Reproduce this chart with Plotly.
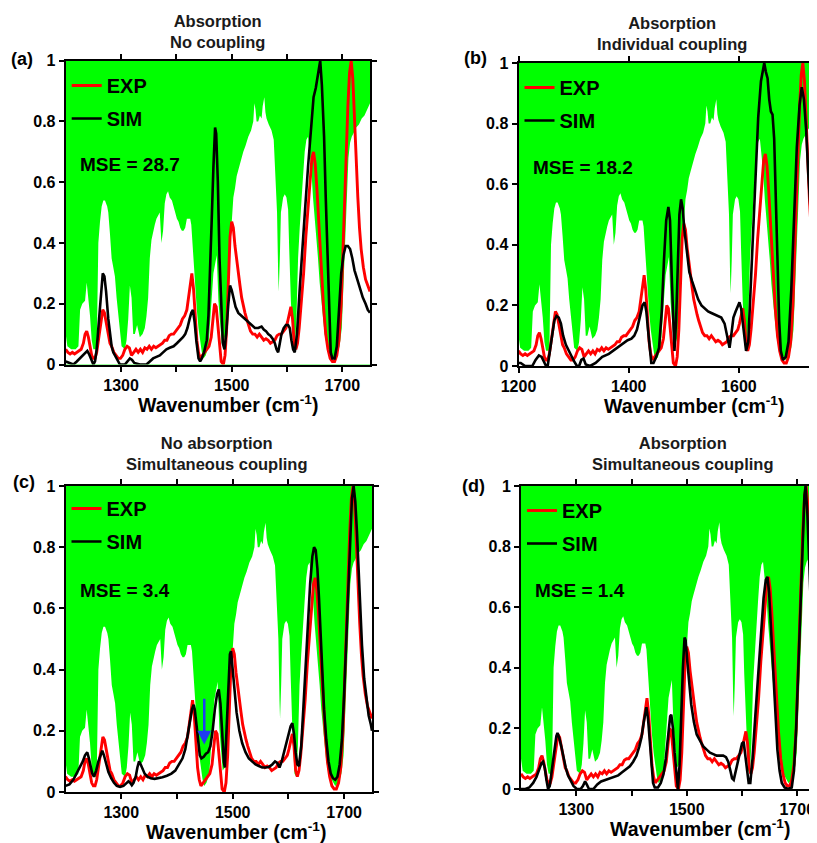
import plotly.graph_objects as go

# ---------------- data ----------------
ABS_X = [1200,1203,1210,1218,1223,1226,1230,1235,1238,1241,1244,1247,1250,1256,1259,1262,1265,1268,1271,1275,1277,1280,1283,1286,1289,1292,1295,1298,1301,1307,1310,1313,1316,1319,1322,1325,1329,1334,1339,1343,1346,1349,1352,1355,1358,1361,1364,1367,1370,1373,1376,1379,1382,1385,1388,1392,1395,1398,1401,1404,1407,1410,1413,1416,1419,1422,1425,1427,1429,1432,1435,1437,1440,1443,1446,1449,1453,1458,1461,1464,1467,1470,1473,1476,1479,1482,1486,1489,1493,1497,1500,1503,1506,1509,1512,1516,1521,1525,1530,1535,1539,1541,1543,1545,1548,1551,1554,1556,1559,1561,1563,1567,1572,1576,1579,1582,1584,1585,1587,1589,1593,1596,1599,1602,1604,1607,1611,1614,1617,1620,1623,1626,1629,1632,1635,1638,1641,1644,1647,1650,1653,1656,1659,1662,1665,1668,1672,1678,1684,1690,1695,1699,1702,1705,1708,1711,1714,1717,1720,1725,1730,1735,1740,1745,1750]
ABS_Y = [0.10,0.06,0.05,0.05,0.06,0.18,0.20,0.21,0.27,0.22,0.16,0.08,0.05,0.05,0.40,0.47,0.52,0.54,0.54,0.52,0.50,0.43,0.35,0.32,0.29,0.22,0.16,0.10,0.06,0.05,0.08,0.15,0.26,0.22,0.10,0.10,0.13,0.09,0.10,0.12,0.16,0.22,0.35,0.41,0.44,0.46,0.48,0.49,0.50,0.40,0.44,0.53,0.56,0.57,0.55,0.54,0.52,0.50,0.48,0.47,0.45,0.44,0.44,0.45,0.48,0.48,0.48,0.46,0.40,0.30,0.22,0.18,0.12,0.07,0.04,0.02,0.03,0.06,0.14,0.21,0.30,0.33,0.36,0.21,0.12,0.07,0.08,0.10,0.27,0.39,0.50,0.55,0.58,0.62,0.64,0.67,0.70,0.72,0.75,0.77,0.80,0.86,0.84,0.80,0.80,0.82,0.81,0.85,0.88,0.83,0.81,0.79,0.77,0.74,0.62,0.50,0.30,0.24,0.35,0.50,0.55,0.56,0.55,0.51,0.38,0.21,0.06,0.05,0.15,0.35,0.45,0.55,0.62,0.70,0.74,0.75,0.70,0.64,0.55,0.49,0.42,0.35,0.27,0.21,0.15,0.10,0.06,0.04,0.02,0.03,0.06,0.12,0.25,0.40,0.55,0.68,0.73,0.75,0.76,0.78,0.79,0.81,0.82,0.84,0.86]

EXP_X = [1200,1204,1208,1212,1216,1220,1224,1228,1232,1235,1238,1241,1244,1247,1250,1253,1256,1259,1262,1265,1267,1270,1273,1276,1280,1283,1287,1291,1295,1299,1303,1307,1311,1315,1319,1323,1327,1331,1335,1339,1343,1347,1351,1355,1359,1363,1367,1371,1375,1379,1383,1387,1391,1395,1399,1403,1407,1411,1415,1419,1422,1425,1428,1431,1434,1437,1440,1443,1447,1451,1455,1459,1463,1466,1469,1472,1475,1478,1481,1485,1488,1491,1494,1497,1500,1503,1506,1509,1512,1515,1518,1521,1524,1527,1530,1534,1538,1542,1546,1550,1554,1558,1562,1566,1570,1574,1578,1582,1586,1590,1594,1598,1601,1604,1607,1610,1613,1616,1619,1622,1626,1630,1634,1638,1642,1645,1648,1651,1654,1657,1660,1663,1666,1670,1674,1678,1682,1686,1690,1694,1698,1702,1706,1710,1713,1716,1719,1722,1725,1728,1731,1734,1738,1742,1746,1750]
EXP_Y = [0.05,0.04,0.035,0.04,0.035,0.04,0.045,0.05,0.07,0.10,0.11,0.09,0.06,0.03,0.02,0.02,0.04,0.08,0.13,0.17,0.18,0.17,0.14,0.10,0.07,0.06,0.04,0.03,0.02,0.02,0.03,0.05,0.06,0.055,0.03,0.04,0.05,0.04,0.05,0.04,0.055,0.05,0.06,0.05,0.06,0.055,0.06,0.065,0.07,0.08,0.08,0.095,0.10,0.10,0.11,0.12,0.13,0.15,0.16,0.18,0.22,0.27,0.30,0.25,0.15,0.08,0.04,0.02,0.03,0.04,0.05,0.06,0.09,0.15,0.20,0.19,0.12,0.05,0.01,0.0,0.03,0.12,0.30,0.42,0.47,0.45,0.39,0.34,0.30,0.26,0.22,0.19,0.17,0.15,0.13,0.11,0.10,0.10,0.09,0.10,0.09,0.08,0.085,0.08,0.07,0.075,0.08,0.095,0.10,0.10,0.11,0.12,0.14,0.17,0.19,0.15,0.07,0.05,0.07,0.12,0.20,0.30,0.42,0.52,0.62,0.68,0.70,0.66,0.58,0.48,0.38,0.28,0.19,0.10,0.05,0.02,0.01,0.01,0.03,0.08,0.20,0.42,0.65,0.85,0.96,1.0,0.94,0.80,0.67,0.55,0.45,0.38,0.32,0.28,0.26,0.24]

SIM_A_X = [1200,1207,1214,1220,1226,1232,1236,1239,1242,1246,1250,1253,1256,1259,1262,1265,1267,1270,1273,1277,1280,1283,1286,1289,1294,1298,1307,1312,1316,1320,1324,1334,1346,1352,1358,1364,1370,1376,1382,1388,1395,1401,1407,1412,1416,1420,1424,1427,1430,1433,1436,1440,1443,1446,1450,1455,1458,1461,1464,1467,1470,1472,1475,1478,1481,1484,1487,1490,1494,1497,1500,1503,1507,1512,1518,1524,1530,1536,1542,1548,1554,1558,1562,1566,1570,1574,1578,1581,1584,1587,1590,1594,1598,1602,1605,1608,1611,1614,1618,1623,1628,1633,1638,1643,1648,1652,1656,1660,1663,1667,1670,1673,1676,1679,1682,1686,1690,1694,1698,1702,1706,1710,1714,1718,1722,1727,1732,1737,1742,1746,1750]
SIM_A_Y = [0.01,0.005,0.0,0.01,0.02,0.03,0.04,0.045,0.035,0.02,0.0,0.01,0.05,0.12,0.20,0.27,0.30,0.29,0.24,0.15,0.10,0.06,0.04,0.03,0.01,0.0,0.0,0.01,0.02,0.015,0.005,0.0,0.0,0.01,0.02,0.025,0.03,0.04,0.05,0.055,0.06,0.07,0.08,0.09,0.10,0.12,0.15,0.17,0.18,0.14,0.08,0.02,0.01,0.02,0.04,0.08,0.16,0.30,0.48,0.65,0.78,0.76,0.60,0.35,0.18,0.07,0.05,0.10,0.20,0.26,0.245,0.22,0.19,0.17,0.16,0.15,0.14,0.13,0.12,0.12,0.125,0.115,0.11,0.10,0.095,0.085,0.07,0.05,0.04,0.07,0.10,0.12,0.13,0.13,0.12,0.08,0.05,0.04,0.10,0.25,0.40,0.52,0.65,0.78,0.88,0.91,0.95,1.0,0.92,0.75,0.55,0.35,0.15,0.04,0.02,0.02,0.06,0.18,0.30,0.36,0.39,0.39,0.38,0.35,0.31,0.28,0.25,0.22,0.20,0.18,0.17]

SIM_B_X = [1200,1204,1212,1225,1231,1237,1242,1246,1250,1253,1257,1261,1265,1269,1273,1277,1281,1286,1291,1296,1301,1306,1310,1314,1318,1322,1330,1340,1352,1364,1376,1388,1398,1405,1410,1415,1420,1425,1429,1432,1435,1438,1441,1445,1450,1455,1460,1464,1468,1472,1475,1478,1481,1483,1486,1489,1492,1495,1498,1501,1505,1510,1515,1520,1526,1532,1538,1544,1550,1556,1562,1568,1574,1579,1583,1586,1590,1594,1598,1601,1604,1607,1610,1613,1617,1621,1625,1630,1635,1640,1644,1646,1649,1652,1655,1658,1661,1664,1667,1670,1673,1676,1680,1685,1690,1695,1700,1705,1710,1714,1718,1722,1726,1730,1734,1738,1742,1746,1750]
SIM_B_Y = [0.01,0.01,0.0,0.0,0.02,0.035,0.03,0.015,0.0,0.0,0.05,0.11,0.15,0.165,0.16,0.14,0.10,0.07,0.05,0.03,0.015,0.0,0.0,0.02,0.025,0.005,0.0,0.01,0.03,0.04,0.055,0.07,0.085,0.09,0.10,0.12,0.16,0.20,0.21,0.18,0.12,0.05,0.01,0.01,0.03,0.06,0.18,0.35,0.48,0.525,0.48,0.30,0.10,0.05,0.15,0.35,0.50,0.55,0.52,0.45,0.38,0.31,0.28,0.25,0.22,0.20,0.19,0.18,0.175,0.17,0.165,0.16,0.14,0.10,0.06,0.10,0.16,0.18,0.20,0.21,0.19,0.14,0.08,0.05,0.08,0.25,0.45,0.65,0.82,0.94,0.99,1.0,0.97,0.95,0.88,0.84,0.83,0.75,0.55,0.35,0.15,0.05,0.02,0.03,0.08,0.25,0.50,0.72,0.86,0.92,0.88,0.78,0.63,0.50,0.40,0.34,0.30,0.28,0.26]

SIM_C_X = [1200,1207,1214,1220,1226,1231,1235,1239,1242,1245,1248,1251,1255,1259,1263,1266,1269,1273,1277,1282,1287,1292,1298,1304,1309,1313,1316,1319,1322,1326,1329,1332,1335,1338,1342,1347,1353,1360,1367,1374,1382,1390,1397,1404,1410,1415,1419,1423,1427,1430,1432,1435,1438,1441,1444,1448,1452,1456,1460,1464,1468,1472,1475,1478,1481,1484,1486,1489,1492,1495,1497,1500,1503,1507,1512,1517,1523,1529,1535,1541,1547,1553,1559,1565,1571,1576,1580,1584,1588,1592,1596,1600,1604,1607,1610,1613,1616,1619,1623,1627,1631,1635,1639,1643,1646,1649,1652,1655,1658,1661,1664,1668,1672,1676,1680,1684,1688,1692,1696,1700,1704,1708,1711,1714,1717,1720,1723,1726,1729,1732,1736,1740,1744,1748,1750]
SIM_C_Y = [0.02,0.025,0.04,0.06,0.08,0.10,0.12,0.13,0.11,0.08,0.06,0.05,0.07,0.10,0.12,0.135,0.12,0.09,0.065,0.045,0.03,0.02,0.017,0.02,0.03,0.035,0.03,0.022,0.03,0.05,0.08,0.10,0.09,0.075,0.06,0.05,0.045,0.043,0.045,0.048,0.053,0.06,0.07,0.09,0.11,0.14,0.18,0.23,0.27,0.285,0.27,0.22,0.16,0.12,0.11,0.115,0.125,0.13,0.15,0.20,0.27,0.32,0.335,0.29,0.20,0.10,0.08,0.20,0.35,0.45,0.46,0.41,0.34,0.26,0.20,0.16,0.13,0.11,0.10,0.09,0.085,0.08,0.08,0.082,0.09,0.10,0.095,0.08,0.10,0.13,0.16,0.19,0.215,0.225,0.19,0.13,0.09,0.085,0.15,0.28,0.42,0.55,0.68,0.77,0.80,0.79,0.73,0.63,0.50,0.38,0.27,0.17,0.10,0.06,0.045,0.04,0.05,0.09,0.17,0.32,0.50,0.70,0.85,0.96,1.0,0.95,0.85,0.72,0.60,0.48,0.37,0.30,0.25,0.22,0.20]

SIM_D_X = [1200,1208,1215,1222,1228,1233,1237,1240,1243,1246,1249,1252,1256,1260,1264,1266,1269,1273,1277,1281,1285,1290,1295,1301,1308,1312,1316,1319,1323,1331,1338,1345,1352,1360,1368,1376,1383,1390,1397,1403,1409,1414,1418,1422,1425,1427,1430,1433,1436,1439,1442,1448,1453,1458,1462,1466,1470,1472,1475,1478,1481,1484,1487,1490,1493,1496,1498,1501,1504,1508,1513,1518,1524,1530,1536,1542,1548,1554,1560,1566,1571,1575,1579,1582,1585,1589,1593,1597,1600,1603,1606,1609,1612,1615,1619,1624,1629,1634,1639,1643,1646,1649,1652,1656,1660,1664,1668,1672,1677,1683,1690,1694,1698,1702,1706,1710,1713,1715,1718,1721,1725,1729,1733,1737,1742,1746,1750]
SIM_D_Y = [0.0,0.0,0.005,0.02,0.04,0.065,0.085,0.09,0.07,0.03,0.0,0.01,0.07,0.13,0.175,0.185,0.17,0.14,0.10,0.07,0.045,0.025,0.01,0.0,0.0,0.01,0.025,0.015,0.0,0.0,0.015,0.025,0.03,0.035,0.04,0.045,0.055,0.065,0.075,0.09,0.11,0.14,0.17,0.22,0.26,0.27,0.23,0.15,0.08,0.02,0.005,0.005,0.02,0.05,0.10,0.17,0.24,0.245,0.20,0.12,0.05,0.0,0.08,0.25,0.40,0.50,0.49,0.42,0.35,0.28,0.22,0.18,0.16,0.14,0.13,0.12,0.115,0.11,0.11,0.11,0.105,0.09,0.06,0.035,0.03,0.06,0.10,0.13,0.15,0.155,0.11,0.05,0.02,0.02,0.10,0.24,0.38,0.52,0.63,0.69,0.70,0.65,0.55,0.40,0.25,0.13,0.06,0.02,0.005,0.0,0.005,0.06,0.20,0.40,0.62,0.85,0.97,1.0,0.92,0.78,0.58,0.45,0.37,0.32,0.28,0.25,0.23]

PANEL_LABELS = ["(a)", "(b)", "(c)", "(d)"]
TITLES = ["Absorption<br>No coupling", "Absorption<br>Individual coupling",
          "No absorption<br>Simultaneous coupling", "Absorption<br>Simultaneous coupling"]
MSE_TEXT = ["MSE = 28.7", "MSE = 18.2", "MSE = 3.4", "MSE = 1.4"]
SIM_SERIES = [(SIM_A_X, SIM_A_Y), (SIM_B_X, SIM_B_Y), (SIM_C_X, SIM_C_Y), (SIM_D_X, SIM_D_Y)]
Y_TICKS = [0, 0.2, 0.4, 0.6, 0.8, 1]
Y_TICKTEXT = ["0", "0.2", "0.4", "0.6", "0.8", "1"]
X_TICKS_ACD = [1300, 1500, 1700]
X_MINOR_ACD = [1400, 1600]
X_TICKS_B = [1200, 1400, 1600]
X_MINOR_B = []
ARROW_X = 1449
ARROW_Y_TIP = 0.155
ARROW_Y_TAIL = 0.31

# ---------------- layout geometry (page pixels) ----------------
PAGE_W, PAGE_H = 817, 843
OFF = 8  # page body margin in the browser
W, H = PAGE_W - OFF, PAGE_H - OFF
FONT = "Liberation Sans, Arial, sans-serif"
GREEN = "#00ff00"

# left, right, top, bottom (page px), x range end,
# title centre x, title bottom y, label right x, label y, legend top y, x-title centre x
panels = [
    dict(l=65.7, r=370.0, t=60.7, b=364.5, xend=1750, tx=217.5, ty=52.7, lx=35, ly=59, gy=66, xtx=228),
    dict(l=518.5, r=817.0, t=63.0, b=366.0, xend=1741.7, tx=672, ty=55, lx=489, ly=58, gy=68, xtx=694),
    dict(l=65.5, r=372.0, t=486.0, b=792.0, xend=1750, tx=217, ty=475, lx=37, ly=482, gy=489, xtx=236),
    dict(l=521.0, r=817.0, t=486.0, b=789.0, xend=1735.7, tx=683, ty=475, lx=487, ly=486, gy=491, xtx=700),
]

def px(x):
    return (x - OFF) / W

def py(y):
    return 1 - (y - OFF) / H

fig = go.Figure()

for i, p in enumerate(panels):
    n = "" if i == 0 else str(i + 1)
    xa, ya = "x" + n, "y" + n
    leg = "legend" + n
    fig.add_trace(go.Scatter(x=ABS_X, y=ABS_Y, mode="lines", line=dict(width=0, color="white"),
                             fill="tozeroy", fillcolor="white", showlegend=False,
                             xaxis=xa, yaxis=ya, hoverinfo="skip"))
    fig.add_trace(go.Scatter(x=EXP_X, y=EXP_Y, mode="lines", name="EXP",
                             line=dict(color="#ff0000", width=2.9), legend=leg, legendgroup="exp",
                             xaxis=xa, yaxis=ya))
    sx, sy = SIM_SERIES[i]
    fig.add_trace(go.Scatter(x=sx, y=sy, mode="lines", name="SIM",
                             line=dict(color="#000000", width=2.6), legend=leg, legendgroup="sim",
                             xaxis=xa, yaxis=ya))

    is_b = (i == 1)
    axis_common = dict(showline=True, linecolor="black", linewidth=2, mirror="ticks",
                       ticks="outside", ticklen=5, tickwidth=2, tickcolor="black",
                       showgrid=False, zeroline=False, automargin=False,
                       tickfont=dict(family=FONT, size=16, color="black", weight="bold"))
    minor_vals = X_MINOR_B if is_b else X_MINOR_ACD
    xaxis_cfg = dict(axis_common, domain=[px(p["l"]), min(px(p["r"]), 1.0)], range=[1200, p["xend"]],
                     anchor=ya, tickmode="array",
                     tickvals=X_TICKS_B if is_b else X_TICKS_ACD)
    if minor_vals:
        xaxis_cfg["minor"] = dict(tickmode="array", tickvals=minor_vals, ticks="outside",
                                  ticklen=5, tickwidth=2, tickcolor="black", showgrid=False)
    fig.layout["xaxis" + n] = xaxis_cfg
    fig.layout["yaxis" + n] = dict(axis_common, domain=[py(p["b"]), py(p["t"])], range=[0, 1],
                                   anchor=xa, tickvals=Y_TICKS, ticktext=Y_TICKTEXT)

    fig.layout[leg] = dict(x=px(p["l"] + 1), y=py(p["gy"]), xanchor="left", yanchor="top",
                           bgcolor="rgba(0,0,0,0)", borderwidth=0, tracegroupgap=4,
                           font=dict(family=FONT, size=20, color="black", weight="bold"))

    fig.add_annotation(x=px(p["tx"]), y=py(p["ty"]), xref="paper", yref="paper",
                       text="<b>" + TITLES[i] + "</b>", showarrow=False, xanchor="center", yanchor="bottom",
                       font=dict(family=FONT, size=16.5, color="#1a1a1a"))
    fig.add_annotation(x=px(p["lx"]), y=py(p["ly"]), xref="paper", yref="paper",
                       text="<b>" + PANEL_LABELS[i] + "</b>", showarrow=False, xanchor="right", yanchor="middle",
                       font=dict(family=FONT, size=18, color="black"))
    fig.add_annotation(x=px(p["l"] + 12), y=py(p["t"] + 104), xref="paper", yref="paper",
                       text="<b>" + MSE_TEXT[i] + "</b>", showarrow=False, xanchor="left", yanchor="middle",
                       font=dict(family=FONT, size=19, color="black"))
    fig.add_annotation(x=px(p["xtx"]), y=py(p["b"] + 39), xref="paper", yref="paper",
                       text="<b>Wavenumber (cm<sup>-1</sup>)</b>", showarrow=False, xanchor="center", yanchor="middle",
                       font=dict(family=FONT, size=19.5, color="black"))

fig.add_annotation(x=ARROW_X, y=ARROW_Y_TIP, ax=ARROW_X, ay=ARROW_Y_TAIL, xref="x3", yref="y3",
                   axref="x3", ayref="y3", showarrow=True, arrowhead=2, arrowsize=1.1,
                   arrowwidth=2.5, arrowcolor="#1f3df0", text="")

fig.update_layout(width=W, height=H, margin=dict(l=0, r=0, t=0, b=0, autoexpand=False),
                  paper_bgcolor="white", plot_bgcolor=GREEN, showlegend=True)

fig.write_html("out.html")
